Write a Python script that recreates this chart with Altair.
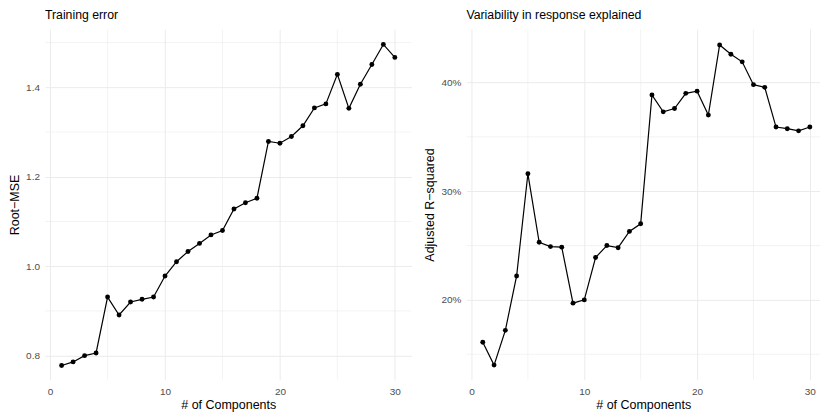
import altair as alt
import pandas as pd

# Number of principal components used in the model
components = [1, 2, 3, 4, 5, 6, 7, 8, 9, 10, 11, 12, 13, 14, 15,
              16, 17, 18, 19, 20, 21, 22, 23, 24, 25, 26, 27, 28, 29, 30]

# Training root mean squared error per number of components
rmse = [0.778, 0.786, 0.800, 0.806, 0.931, 0.891, 0.920, 0.926, 0.931, 0.978,
        1.010, 1.033, 1.051, 1.070, 1.080, 1.128, 1.142, 1.152, 1.279, 1.275,
        1.290, 1.314, 1.354, 1.363, 1.429, 1.353, 1.407, 1.451, 1.496, 1.467]

# Adjusted R-squared per number of components
adj_r2 = [0.161, 0.140, 0.172, 0.222, 0.316, 0.253, 0.249, 0.2485, 0.197, 0.200,
          0.239, 0.250, 0.248, 0.263, 0.270, 0.3885, 0.373, 0.376, 0.390, 0.392,
          0.370, 0.4345, 0.426, 0.419, 0.398, 0.3955, 0.359, 0.3575, 0.3555, 0.359]

# Axis breaks (major get labels, minor only draw grid lines)
x_breaks = [0, 10, 20, 30]
x_minor = [5, 15, 25]
rmse_breaks = [0.8, 1.0, 1.2, 1.4]
rmse_minor = [0.9, 1.1, 1.3, 1.5]
r2_breaks = [0.2, 0.3, 0.4]
r2_minor = [0.15, 0.25, 0.35, 0.45]

# Axis ranges (data range plus a small margin)
rmse_domain = [0.746, 1.530]
r2_domain = [0.1265, 0.449]

FONT = "Liberation Sans"
GRID = "#EBEBEB"


def panel(values, title, y_title, y_domain, y_breaks, y_minor, y_format,
          x_domain, width, height):
    df = pd.DataFrame({"k": components, "v": values})
    xscale = alt.Scale(domain=x_domain, nice=False, zero=False)
    yscale = alt.Scale(domain=y_domain, nice=False, zero=False)

    x_axis = alt.Axis(values=x_breaks, title="# of Components", format="d",
                      labelPadding=7, titlePadding=2)
    y_axis = alt.Axis(values=y_breaks, title=y_title, format=y_format,
                      labelPadding=5.5, titlePadding=4)

    v_minor = alt.Chart(pd.DataFrame({"m": x_minor})).mark_rule(
        color=GRID, strokeWidth=0.6, clip=True
    ).encode(x=alt.X("m:Q", scale=xscale, axis=x_axis))

    h_minor = alt.Chart(pd.DataFrame({"m": y_minor})).mark_rule(
        color=GRID, strokeWidth=0.6, clip=True
    ).encode(y=alt.Y("m:Q", scale=yscale, axis=y_axis))

    base = alt.Chart(df)
    line = base.mark_line(color="black", strokeWidth=1.2).encode(
        x=alt.X("k:Q", scale=xscale, axis=x_axis),
        y=alt.Y("v:Q", scale=yscale, axis=y_axis),
    )
    points = base.mark_circle(color="black", size=24, opacity=1).encode(
        x=alt.X("k:Q", scale=xscale, axis=x_axis),
        y=alt.Y("v:Q", scale=yscale, axis=y_axis),
    )

    return alt.layer(v_minor, h_minor, line, points).properties(
        width=width,
        height=height,
        title=alt.TitleParams(title, anchor="start", frame="group", offset=8),
    )


left = panel(rmse, "Training error", "Root\u2212MSE", rmse_domain, rmse_breaks,
             rmse_minor, ".1f", [-0.45, 31.45], 367, 351)
right = panel(adj_r2, "Variability in response explained", "Adjusted R\u2212squared",
              r2_domain, r2_breaks, r2_minor, ".0%", [-0.45, 30.9], 354, 351)

chart = alt.hconcat(left, right, spacing=12).properties(
    padding={"left": 8, "top": 8, "right": 0, "bottom": 0}
).configure_view(
    stroke=None
).configure_axis(
    labelFont=FONT,
    labelFontSize=10,
    labelColor="#4D4D4D",
    titleFont=FONT,
    titleFontSize=12.5,
    titleFontWeight="normal",
    titleColor="black",
    domain=False,
    ticks=False,
    tickSize=0,
    gridColor=GRID,
    gridWidth=1,
).configure_title(
    font=FONT,
    fontSize=12.3,
    fontWeight="normal",
    color="black",
)

chart.save("out.html", embed_options={"renderer": "svg", "actions": False})
